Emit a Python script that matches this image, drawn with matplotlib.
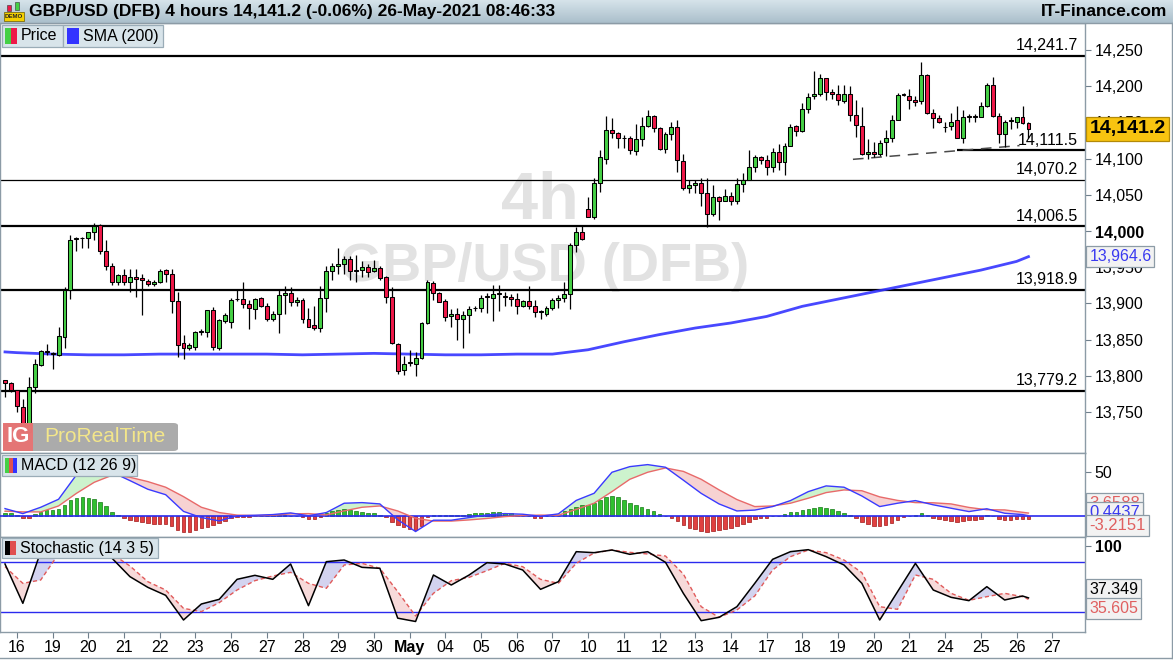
"""GBP/USD 4h chart with SMA(200), MACD and Stochastic panels."""

import matplotlib
matplotlib.use("Agg")
import matplotlib.pyplot as plt
import matplotlib.transforms as mtransforms
import numpy as np
from matplotlib.colors import LinearSegmentedColormap
from matplotlib.patches import FancyBboxPatch, Rectangle

plt.rcParams["font.family"] = ["Liberation Sans", "DejaVu Sans"]

# ---- values (one candle per 4h, 15-Apr .. 26-May) ----
opens = [
    13794, 13790, 13780, 13757, 13722, 13785, 13815, 13834, 13831, 13829,
    13854, 13918, 13989, 13991, 13990, 13999, 14008, 13973, 13951, 13929,
    13939, 13929, 13937, 13935, 13931, 13927, 13929, 13946, 13940, 13904,
    13845, 13838, 13840, 13861, 13861, 13891, 13839, 13876, 13875, 13906,
    13906, 13899, 13892, 13907, 13897, 13878, 13886, 13912, 13915, 13902,
    13905, 13878, 13870, 13866, 13907, 13945, 13952, 13954, 13962, 13945,
    13946, 13950, 13945, 13949, 13936, 13909, 13844, 13808, 13818, 13817,
    13824, 13873, 13928, 13914, 13904, 13882, 13886, 13878, 13884, 13893,
    13893, 13909, 13907, 13913, 13909, 13909, 13906, 13897, 13903, 13896,
    13888, 13886, 13894, 13905, 13908, 13913, 13981, 13998, 14030, 14019,
    14066, 14100, 14140, 14135, 14129, 14128, 14111, 14127, 14145, 14159,
    14142, 14113, 14134, 14143, 14097, 14060, 14063, 14066, 14053, 14023,
    14047, 14042, 14048, 14041, 14065, 14071, 14088, 14102, 14098, 14088,
    14109, 14096, 14118, 14145, 14138, 14169, 14186, 14189, 14211, 14192,
    14189, 14180, 14189, 14160, 14145, 14106, 14109, 14106, 14123, 14129,
    14154, 14188, 14187, 14181, 14179, 14215, 14163, 14156, 14144, 14145,
    14153, 14129, 14158, 14158, 14158, 14172, 14201, 14159, 14134, 14152,
    14151, 14157, 14149,
]
highs = [
    13794, 13792, 13781, 13768, 13799, 13823, 13836, 13844, 13833, 13868,
    13922, 13994, 13992, 13992, 13999, 14011, 14010, 13988, 13956, 13940,
    13948, 13947, 13948, 13941, 13934, 13932, 13947, 13948, 13947, 13916,
    13856, 13845, 13862, 13864, 13891, 13895, 13879, 13887, 13907, 13918,
    13930, 13905, 13908, 13909, 13900, 13889, 13918, 13924, 13922, 13909,
    13908, 13893, 13896, 13924, 13951, 13956, 13977, 13965, 13965, 13967,
    13958, 13955, 13960, 13951, 13938, 13923, 13846, 13827, 13835, 13833,
    13875, 13932, 13931, 13916, 13906, 13892, 13893, 13890, 13897, 13896,
    13911, 13915, 13926, 13925, 13916, 13913, 13914, 13905, 13924, 13905,
    13891, 13896, 13907, 13912, 13930, 13983, 14006, 14008, 14047, 14073,
    14112, 14159, 14156, 14137, 14133, 14131, 14148, 14158, 14167, 14160,
    14144, 14137, 14151, 14153, 14106, 14070, 14071, 14073, 14073, 14064,
    14048, 14058, 14054, 14073, 14080, 14112, 14105, 14104, 14105, 14114,
    14120, 14122, 14148, 14146, 14177, 14191, 14221, 14217, 14212, 14196,
    14202, 14202, 14200, 14181, 14171, 14127, 14123, 14126, 14140, 14160,
    14191, 14191, 14196, 14186, 14233, 14217, 14169, 14160, 14150, 14163,
    14172, 14167, 14162, 14162, 14178, 14204, 14213, 14163, 14153, 14158,
    14158, 14172, 14151,
]
lows = [
    13771, 13777, 13750, 13721, 13721, 13776, 13814, 13829, 13809, 13827,
    13838, 13906, 13973, 13976, 13976, 13987, 13968, 13946, 13925, 13925,
    13925, 13916, 13909, 13884, 13924, 13924, 13928, 13930, 13887, 13826,
    13823, 13836, 13835, 13856, 13854, 13836, 13836, 13873, 13866, 13904,
    13893, 13865, 13878, 13895, 13876, 13876, 13859, 13886, 13896, 13896,
    13873, 13867, 13863, 13861, 13888, 13932, 13941, 13941, 13932, 13930,
    13936, 13937, 13943, 13933, 13901, 13844, 13803, 13801, 13813, 13800,
    13823, 13872, 13905, 13902, 13876, 13868, 13850, 13838, 13859, 13889,
    13888, 13887, 13876, 13890, 13897, 13897, 13885, 13895, 13892, 13881,
    13878, 13882, 13891, 13894, 13902, 13892, 13971, 13987, 14019, 14016,
    14054, 14093, 14128, 14115, 14114, 14107, 14105, 14117, 14144, 14137,
    14112, 14108, 14126, 14081, 14057, 14052, 14052, 14035, 14006, 14021,
    14015, 14042, 14036, 14038, 14054, 14070, 14082, 14092, 14078, 14081,
    14084, 14078, 14118, 14131, 14137, 14163, 14183, 14186, 14181, 14183,
    14174, 14177, 14152, 14130, 14105, 14100, 14102, 14104, 14103, 14123,
    14153, 14186, 14169, 14172, 14176, 14162, 14142, 14149, 14137, 14140,
    14128, 14121, 14151, 14151, 14158, 14171, 14158, 14122, 14116, 14141,
    14142, 14148, 14128,
]
closes = [
    13790, 13780, 13758, 13724, 13784, 13817, 13834, 13833, 13830, 13855,
    13919, 13987, 13991, 13990, 13998, 14007, 13973, 13951, 13929, 13939,
    13929, 13937, 13934, 13932, 13927, 13930, 13945, 13941, 13903, 13843,
    13838, 13843, 13861, 13861, 13891, 13840, 13877, 13884, 13905, 13906,
    13899, 13893, 13906, 13897, 13878, 13886, 13912, 13915, 13902, 13905,
    13878, 13868, 13866, 13907, 13945, 13952, 13954, 13962, 13945, 13945,
    13950, 13944, 13949, 13935, 13909, 13845, 13806, 13816, 13819, 13824,
    13873, 13929, 13914, 13902, 13881, 13885, 13878, 13884, 13892, 13893,
    13908, 13909, 13913, 13913, 13909, 13906, 13897, 13903, 13897, 13888,
    13889, 13894, 13905, 13908, 13913, 13981, 13999, 13989, 14019, 14066,
    14102, 14140, 14135, 14129, 14128, 14112, 14127, 14145, 14159, 14142,
    14113, 14134, 14143, 14098, 14060, 14063, 14066, 14053, 14023, 14047,
    14042, 14048, 14041, 14065, 14071, 14089, 14102, 14098, 14088, 14109,
    14096, 14118, 14144, 14138, 14168, 14185, 14189, 14211, 14192, 14189,
    14181, 14189, 14160, 14146, 14106, 14109, 14106, 14122, 14129, 14154,
    14188, 14188, 14181, 14178, 14215, 14163, 14156, 14151, 14143, 14151,
    14129, 14157, 14158, 14158, 14172, 14201, 14159, 14134, 14151, 14152,
    14157, 14149, 14141.2,
]

# SMA(200), read at the start of each session
sma_idx = [1, 3, 9, 15, 21, 27, 33, 39, 45, 51, 57, 63, 69, 75, 81, 87,
           93, 99, 105, 111, 117, 123, 129, 135, 141, 147, 153, 159, 165,
           171, 173]
sma_val = [13833, 13832, 13830, 13829, 13829, 13830, 13830, 13830, 13830,
           13829, 13830, 13831, 13830, 13829, 13829, 13830, 13830, 13836,
           13847, 13857, 13866, 13873, 13882, 13896, 13906, 13916, 13926,
           13936, 13946, 13958, 13964.6]

# support / resistance levels drawn on the chart
levels = [14241.7, 14111.5, 14070.2, 14006.5, 13918.9, 13779.2]

# MACD histogram, one bar per candle
macd_hist = [
    4.2, 3.4, 1.0, -2.3, -1.5, 2.7, 5.3, 7.2, 7.2, 8.0,
    12.9, 18.6, 21.2, 21.6, 20.5, 19.3, 16.7, 11.7, 4.9, 1.5,
    -2.3, -4.2, -5.3, -6.4, -7.6, -8.7, -8.7, -8.7, -11.0, -15.5,
    -17.4, -18.2, -15.5, -13.6, -11.7, -9.8, -7.2, -4.9, -2.3, -0.8,
    -0.5, -0.3, 0.3, 0.5, 0.8, 1.0, 1.1, 1.0, 0.5, 0.3,
    -0.5, -2.7, -3.0, -0.5, 3.4, 6.1, 7.2, 8.0, 7.2, 6.1,
    4.9, 4.2, 4.2, 1.5, -0.5, -6.1, -9.8, -12.5, -14.4, -15.5,
    -11.0, -0.3, 1.1, 1.1, 1.1, 1.1, 1.5, 1.5, 2.7, 3.4,
    4.2, 4.2, 4.9, 4.5, 3.4, 3.4, 1.9, 0.5, 0.3, -1.5,
    -1.5, 0.3, 0.5, 0.8, 5.7, 8.0, 10.2, 12.9, 13.0, 14.8,
    18.6, 22.3, 23.1, 22.3, 18.6, 15.5, 12.9, 10.2, 8.7, 6.4,
    2.3, 0.3, -1.5, -4.9, -10.2, -12.9, -14.8, -16.3, -18.2, -16.7,
    -15.5, -14.4, -12.9, -11.0, -8.7, -6.4, -3.4, -1.5, -1.5, 0.3,
    0.3, 2.7, 4.9, 5.3, 7.2, 8.3, 9.1, 10.2, 9.1, 8.0,
    6.1, 3.4, 1.1, -2.3, -6.1, -8.7, -11.0, -11.0, -9.5, -7.2,
    -4.2, -0.4, 0.4, 1.9, 3.4, 1.1, -2.3, -3.4, -4.2, -5.3,
    -6.4, -5.3, -4.5, -4.2, -3.4, 1.1, 0.3, -3.4, -4.2, -4.2,
    -3.4, -3.0, -3.2151,
]

# MACD / signal and stochastic %K / %D, read every third candle
ind_idx = list(range(1, 173, 3)) + [173]
macd_line = [
    8.7, 3.0, 10.2, 19.3, 47.0, 58.0, 50.0, 40.5, 30.7, 24.5,
    5.5, -1.5, -5.3, 0.5, 1.1, 1.9, 3.8, 0.5, 4.2, 14.8,
    15.5, 14.0, -4.0, -17.4, -4.5, -4.5, -1.5, 1.5, 3.0, 2.3,
    0.0, 2.7, 18.0, 26.1, 50.0, 56.4, 58.7, 55.7, 41.0, 26.0,
    14.0, 6.0, 7.0, 11.0, 17.8, 28.0, 34.5, 33.0, 23.0, 11.0,
    14.8, 17.8, 13.0, 9.1, 5.3, 8.5, 3.4, 1.9, 0.4437,
]
macd_signal = [
    5.7, 5.0, 4.9, 11.7, 26.0, 38.6, 46.6, 44.3, 39.4, 33.0,
    22.3, 10.2, 4.2, 1.3, 0.8, 1.1, 2.7, 3.0, 1.5, 6.1,
    10.2, 11.7, 6.0, -2.3, -5.5, -5.5, -4.2, -2.5, -0.4, 0.8,
    1.3, 1.1, 7.8, 14.8, 28.0, 42.0, 50.0, 54.9, 51.0, 42.0,
    30.0, 19.0, 11.0, 11.7, 14.8, 20.5, 26.9, 29.9, 29.0, 22.0,
    18.0, 15.5, 15.3, 14.0, 10.0, 7.4, 7.2, 4.5, 3.6588,
]
stoch_k = [
    78.0, 30.8, 92.8, 97.0, 98.0, 95.0, 84.8, 62.8, 50.0, 40.4,
    10.8, 30.0, 35.6, 59.6, 64.4, 59.6, 78.0, 28.0, 80.8, 82.8,
    74.0, 72.8, 13.0, 9.0, 64.8, 52.8, 64.8, 79.6, 78.0, 70.8,
    47.6, 56.8, 92.8, 91.6, 94.8, 89.6, 92.8, 80.0, 42.8, 10.0,
    14.0, 26.8, 54.8, 83.6, 92.8, 95.2, 86.8, 76.8, 54.8, 10.8,
    44.8, 78.8, 46.8, 38.0, 34.0, 50.8, 34.8, 39.6, 37.349,
]
stoch_d = [
    74.8, 54.8, 58.8, 90.0, 95.0, 96.0, 90.0, 75.6, 56.8, 46.8,
    24.8, 20.8, 31.6, 46.8, 58.0, 63.6, 68.0, 54.8, 48.8, 76.8,
    78.8, 72.8, 44.8, 15.6, 42.8, 58.0, 62.0, 70.0, 78.8, 74.8,
    59.6, 54.8, 78.8, 91.2, 94.8, 92.0, 90.0, 87.6, 66.0, 26.8,
    14.0, 22.8, 39.6, 70.8, 86.8, 94.8, 91.6, 82.8, 67.6, 26.8,
    23.6, 64.8, 59.6, 42.8, 34.4, 38.8, 42.8, 38.8, 35.605,
]

day_labels = ["16", "19", "20", "21", "22", "23", "26", "27", "28", "29",
              "30", "May", "04", "05", "06", "07", "10", "11", "12", "13",
              "14", "17", "18", "19", "20", "21", "24", "25", "26", "27"]
day_pos = list(range(3, 178, 6))
price_ticks = [13750, 13800, 13850, 13900, 13950, 14000, 14050, 14100,
               14150, 14200, 14250]

# ---- styling ------------------------------------------------------------
W, H = 1173, 660
GREEN, RED = "#45d045", "#ee1848"
FRAME = "#8c9ba6"
BLUE = "#3434ff"


def fx(px):
    return px / W


def fy(py):
    return 1 - py / H


fig = plt.figure(figsize=(W / 100, H / 100), dpi=100)
fig.patch.set_facecolor("white")

ax = fig.add_axes([0, fy(453), fx(1085), (453 - 23) / H])
ax_m = fig.add_axes([0, fy(537), fx(1085), (537 - 453) / H], sharex=ax)
ax_s = fig.add_axes([0, fy(632), fx(1085), (632 - 537) / H], sharex=ax)

for a in (ax, ax_m, ax_s):
    for sp in a.spines.values():
        sp.set_color(FRAME)
        sp.set_linewidth(1.0)
    a.yaxis.tick_right()
    a.tick_params(axis="y", length=4, width=0.8, color="#6f7f8c",
                  labelsize=11.5, pad=3)
    a.tick_params(axis="x", bottom=False, labelbottom=False)
    a.set_facecolor("white")

ax.set_xlim(0.16, 182.5)

# ---- price panel ----------------------------------------------------------
o = np.array(opens, dtype=float)
h = np.array(highs, dtype=float)
lo = np.array(lows, dtype=float)
c = np.array(closes, dtype=float)
x = np.arange(1, len(c) + 1)

ax.set_ylim(13693.4, 14287.3)
ax.set_yticks(price_ticks)
ax.set_yticklabels([f"{t:,}" for t in price_ticks])
for lab in ax.get_yticklabels():
    if lab.get_text() == "14,000":
        lab.set_fontweight("bold")

ax.text(0.498, 0.583, "4h", transform=ax.transAxes, ha="center",
        va="center", fontsize=48, fontweight="bold", color="#e2e2e2", zorder=1)
ax.text(0.502, 0.433, "GBP/USD (DFB)", transform=ax.transAxes, ha="center",
        va="center", fontsize=39, fontweight="bold", color="#e2e2e2", zorder=1)

for lv in levels:
    thin = lv == 14070.2
    start = 161 if lv == 14111.5 else 0.16
    ax.hlines(lv, start, 182.5, color="black", lw=0.9 if thin else 1.6, zorder=2)
    ax.annotate(f"{lv:,.1f}", xy=(181.3, lv), xytext=(0, 2),
                textcoords="offset points", ha="right", va="bottom",
                fontsize=11.5, zorder=6)

ax.plot([143.5, 171.5], [14099, 14118], color="#4a4a4a", lw=1.1,
        ls=(0, (7, 5)), zorder=2)

ax.plot(sma_idx, sma_val, color=BLUE, lw=2.0, alpha=0.9, zorder=2.5)

ax.vlines(x, lo, h, color="black", lw=0.9, zorder=3)
body_lo = np.minimum(o, c)
body_h = np.maximum(np.abs(c - o), 0.7)
colors = [GREEN if cc > oo else RED for oo, cc in zip(o, c)]
ax.bar(x, body_h, bottom=body_lo, width=0.66, color=colors,
       edgecolor="black", linewidth=0.75, zorder=4)


def side_label(axis, y, text, color, fc, ec, bold=False, size=11.5):
    tr = mtransforms.blended_transform_factory(axis.transAxes, axis.transData)
    axis.text(1.004, y, text, transform=tr, ha="left", va="center",
              color=color, fontsize=size,
              fontweight="bold" if bold else "normal",
              bbox=dict(boxstyle="square,pad=0.18", fc=fc, ec=ec, lw=0.9),
              clip_on=False, zorder=20)


side_label(ax, c[-1], f"{c[-1]:,.1f}", "black", "#f8c410", "#b38a08",
           bold=True, size=14)
side_label(ax, sma_val[-1], f"{sma_val[-1]:,.1f}", "#3a3af0", "#f2f2f2", FRAME)

# ---- MACD panel -----------------------------------------------------------
ax_m.set_ylim(-23.6, 71.9)
ax_m.set_yticks([50])
ax_m.set_yticklabels(["50"])
mi = np.array(ind_idx, dtype=float)
ml = np.array(macd_line)
ms = np.array(macd_signal)
ax_m.fill_between(mi, ml, ms, where=ml >= ms, interpolate=True,
                  color="#cdf3cd", lw=0, zorder=1)
ax_m.fill_between(mi, ml, ms, where=ml < ms, interpolate=True,
                  color="#f7d2d2", lw=0, zorder=1)
hist = np.array(macd_hist)
ax_m.bar(x, hist, width=0.6,
         color=["#2fc02f" if v >= 0 else "#e04040" for v in hist],
         edgecolor=["#167a16" if v >= 0 else "#a01818" for v in hist],
         linewidth=0.5, zorder=2)
ax_m.axhline(0, color="#2a2aee", lw=1.2, zorder=3)
ax_m.plot(mi, ms, color="#e86a6a", lw=1.0, zorder=4)
ax_m.plot(mi, ml, color="#3a3aff", lw=1.0, zorder=5)

side_label(ax_m, 15, f"{macd_signal[-1]:.4f}", "#e06060", "#f2f2f2", FRAME,
           size=12)
side_label(ax_m, 4, f"{macd_line[-1]:.4f}", "#3a3af0", "#f2f2f2", FRAME,
           size=12)
side_label(ax_m, -10.5, f"{macd_hist[-1]:.4f}", "#e06060", "#f2f2f2", FRAME,
           size=12)

# ---- Stochastic panel -----------------------------------------------------
ax_s.set_ylim(-3.6, 110.4)
ax_s.set_yticks([100])
ax_s.set_yticklabels(["100"], fontweight="bold")
sk = np.array(stoch_k)
sd = np.array(stoch_d)
ax_s.fill_between(mi, sk, sd, where=sk >= sd, interpolate=True,
                  color="#d3d3ef", lw=0, zorder=1)
ax_s.fill_between(mi, sk, sd, where=sk < sd, interpolate=True,
                  color="#f7dada", lw=0, zorder=1)
ax_s.axhline(80, color="#2a2aee", lw=1.0, zorder=2)
ax_s.axhline(20, color="#2a2aee", lw=1.0, zorder=2)
ax_s.plot(mi, sd, color="#e05a5a", lw=1.0, ls=(0, (3, 2)), zorder=3)
ax_s.plot(mi, sk, color="black", lw=1.1, zorder=4)

side_label(ax_s, 48, f"{stoch_k[-1]:.3f}", "black", "#f2f2f2", FRAME)
side_label(ax_s, 25, f"{stoch_d[-1]:.3f}", "#e06060", "#f2f2f2", FRAME)

ax_s.set_xticks(day_pos)
ax_s.set_xticklabels(day_labels)
ax_s.tick_params(axis="x", bottom=True, labelbottom=True, length=4,
                 width=0.8, color="#6f7f8c", labelsize=11.5, pad=2)
for lab in ax_s.get_xticklabels():
    if lab.get_text() == "May":
        lab.set_fontweight("bold")
ax.tick_params(axis="x", bottom=False, labelbottom=False)
ax_m.tick_params(axis="x", bottom=False, labelbottom=False)

# ---- header bar -----------------------------------------------------------
hdr = fig.add_axes([0, fy(23), 1, 23 / H])
grad = np.linspace(0, 1, 50).reshape(-1, 1)
cmap = LinearSegmentedColormap.from_list("hdr", ["#d6e3ea", "#aabfcb"])
hdr.imshow(grad, aspect="auto", cmap=cmap, extent=[0, 1, 0, 1])
hdr.set_xlim(0, 1)
hdr.set_ylim(0, 1)
hdr.axis("off")
hdr.text(fx(29), 0.5, "GBP/USD (DFB) 4 hours 14,141.2 (-0.06%) 26-May-2021 08:46:33",
         ha="left", va="center", fontsize=12.5, fontweight="bold")
hdr.text(fx(1167), 0.5, "IT-Finance.com", ha="right", va="center",
         fontsize=12.5, fontweight="bold")
# small DEMO icon
hdr.add_patch(Rectangle((fx(4), 0.1), fx(20), 0.4, fc="#f4d000", ec="#6a5a00", lw=0.5))
hdr.text(fx(14), 0.3, "DEMO", ha="center", va="center", fontsize=4.4,
         fontweight="bold", color="#222222")
hdr.add_patch(Rectangle((fx(7), 0.52), fx(4), 0.25, fc=RED, ec="#333333", lw=0.4))
hdr.add_patch(Rectangle((fx(15), 0.55), fx(4), 0.35, fc=GREEN, ec="#333333", lw=0.4))
fig.add_artist(plt.Line2D([0, 1], [fy(23), fy(23)], color=FRAME, lw=1.0))


def legend_box(x0, x1, y0, y1, text, swatches):
    fig.add_artist(Rectangle((fx(x0), fy(y1)), fx(x1 - x0), (y1 - y0) / H,
                             fc="#d8e4ea", ec="#9aacb7", lw=0.9, zorder=5))
    for sx0, sx1, col in swatches:
        fig.add_artist(Rectangle((fx(sx0), fy(y1 - 3)), fx(sx1 - sx0),
                                 (y1 - y0 - 6) / H, fc=col, ec="none", zorder=6))
    end = swatches[-1][1]
    fig.text(fx(end + 4), fy((y0 + y1) / 2), text, ha="left", va="center",
             fontsize=11.5, zorder=7)


legend_box(2, 63, 25, 47, "Price", [(5, 11, GREEN), (11, 17, RED)])
legend_box(63, 163, 25, 47, "SMA (200)", [(67, 79, "#3333ff")])
legend_box(2, 137, 455, 476, "MACD (12 26 9)",
           [(5, 9, GREEN), (9, 13, "#e05050"), (13, 17, "#3333ff")])
legend_box(2, 158, 538, 558, "Stochastic (14 3 5)",
           [(5, 10, "black"), (10, 16, "#e05050")])

# ---- ProRealTime badge ----------------------------------------------------
fig.add_artist(FancyBboxPatch((fx(3), fy(451)), fx(175), 28 / H,
                              boxstyle="round,pad=0,rounding_size=0.004",
                              fc="#9c9c9c", ec="none", alpha=0.85, zorder=5))
fig.add_artist(Rectangle((fx(3), fy(451)), fx(30), 28 / H,
                         fc="#e87272", ec="none", alpha=0.95, zorder=6))
fig.text(fx(18), fy(437), "IG", ha="center", va="center", fontsize=16,
         fontweight="bold", color="white", zorder=7)
fig.text(fx(44), fy(437), "ProRealTime", ha="left", va="center",
         fontsize=15, color="#f3e68a", zorder=7)

# outer frame of the bottom strip
fig.add_artist(plt.Line2D([0, 1], [fy(658), fy(658)], color=FRAME, lw=1.0))
fig.add_artist(plt.Line2D([fx(1171.5), fx(1171.5)], [fy(658), fy(23)],
                          color=FRAME, lw=1.0))

fig.savefig("out.png", dpi=100)
